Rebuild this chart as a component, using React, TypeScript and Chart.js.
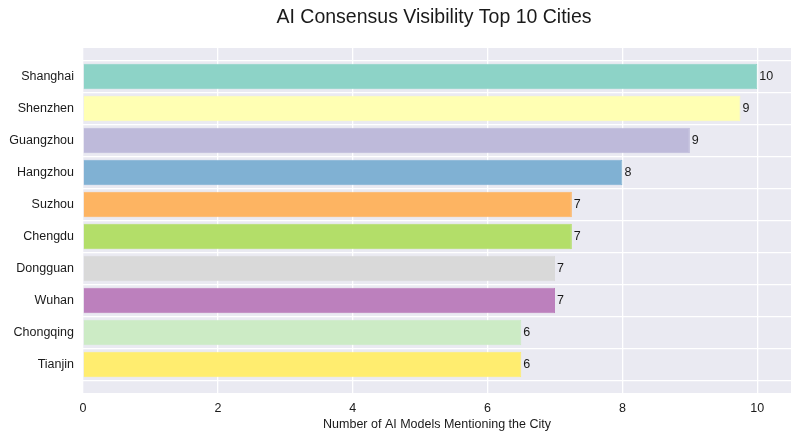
import React, { useEffect, useRef } from "react";
import { Chart, registerables } from "chart.js";

Chart.register(...registerables);

const cities = [
  "Shanghai",
  "Shenzhen",
  "Guangzhou",
  "Hangzhou",
  "Suzhou",
  "Chengdu",
  "Dongguan",
  "Wuhan",
  "Chongqing",
  "Tianjin",
];
const mentions = [10, 9.75, 9, 8, 7.25, 7.25, 7, 7, 6.5, 6.5];
const barColors = [
  "#8dd3c7",
  "#ffffb3",
  "#bebada",
  "#80b1d3",
  "#fdb462",
  "#b3de69",
  "#d9d9d9",
  "#bc80bd",
  "#ccebc5",
  "#ffed6f",
];
const xTickValues = [0, 2, 4, 6, 8, 10];
const chartTitle = "AI Consensus Visibility Top 10 Cities";
const xAxisTitle = "Number of AI Models Mentioning the City";

const FONT = "'Liberation Sans', Arial, sans-serif";

const panelBackground = {
  id: "panelBackground",
  beforeDraw(chart: any) {
    const { ctx, chartArea } = chart;
    ctx.save();
    ctx.fillStyle = "#eaeaf2";
    ctx.fillRect(chartArea.left, chartArea.top, chartArea.right - chartArea.left, chartArea.bottom - chartArea.top);
    ctx.restore();
  },
};

const textOverlay = {
  id: "textOverlay",
  afterDatasetsDraw(chart: any) {
    const { ctx, chartArea } = chart;
    const meta = chart.getDatasetMeta(0);
    ctx.save();
    ctx.fillStyle = "#1a1a1a";
    ctx.font = `12.5px ${FONT}`;
    ctx.textAlign = "left";
    ctx.textBaseline = "middle";
    meta.data.forEach((bar: any, i: number) => {
      ctx.fillText(String(Math.floor(mentions[i])), bar.x + 2, bar.y + 0.5);
    });
    const cx = (chartArea.left + chartArea.right) / 2;
    ctx.textAlign = "center";
    ctx.font = `19.5px ${FONT}`;
    ctx.fillText(chartTitle, cx - 3, 18);
    ctx.font = `12.5px ${FONT}`;
    ctx.fillText(xAxisTitle, cx, 425);
    ctx.restore();
  },
};

export default function App() {
  const canvasRef = useRef<HTMLCanvasElement | null>(null);

  useEffect(() => {
    if (!canvasRef.current) return;
    const chart = new Chart(canvasRef.current, {
      type: "bar",
      data: {
        datasets: [
          {
            data: mentions.map((v, i) => ({ x: v, y: i })),
            backgroundColor: barColors,
            borderColor: barColors,
            borderWidth: 1,
            barPercentage: 0.8,
            categoryPercentage: 1,
          },
        ],
      },
      options: {
        indexAxis: "y",
        animation: false,
        responsive: false,
        maintainAspectRatio: false,
        layout: { padding: { top: 48, right: 9, left: 0, bottom: 0 } },
        plugins: {
          legend: { display: false },
          title: { display: false },
          tooltip: { enabled: false },
        },
        scales: {
          x: {
            type: "linear",
            min: 0,
            max: 10.5,
            afterBuildTicks: (scale: any) => {
              scale.ticks = xTickValues.map((v) => ({ value: v }));
            },
            afterFit: (scale: any) => {
              scale.height = 48;
            },
            grid: { color: "#ffffff", lineWidth: 1.3, drawTicks: false },
            border: { display: false },
            ticks: {
              color: "#1a1a1a",
              font: { family: FONT, size: 12.5 },
              padding: 8,
              maxRotation: 0,
            },
          },
          y: {
            type: "linear",
            reverse: true,
            offset: false,
            min: -0.89,
            max: 9.89,
            afterBuildTicks: (scale: any) => {
              scale.ticks = cities.map((_, i) => ({ value: i }));
            },
            afterFit: (scale: any) => {
              scale.width = 83;
            },
            grid: { color: "#ffffff", lineWidth: 1.3, drawTicks: false },
            border: { display: false },
            ticks: {
              color: "#1a1a1a",
              font: { family: FONT, size: 12.5 },
              padding: 9,
              callback: (v: any) => cities[Math.round(Number(v))] ?? "",
            },
          },
        },
      },
      plugins: [panelBackground, textOverlay],
    });
    return () => chart.destroy();
  }, []);

  return (
    <div style={{ position: "fixed", left: 0, top: 0, width: 800, height: 441, background: "#ffffff" }}>
      <canvas ref={canvasRef} width={800} height={441} />
    </div>
  );
}
